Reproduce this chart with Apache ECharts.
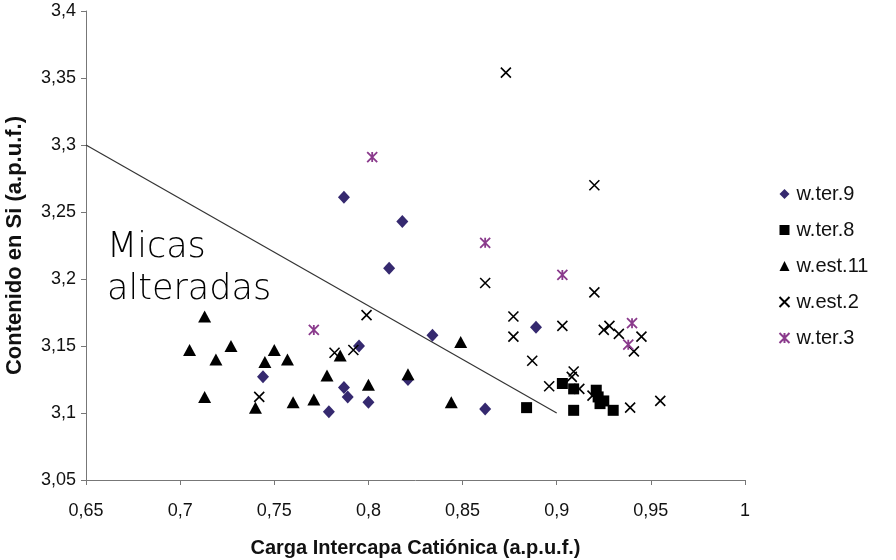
<!DOCTYPE html>
<html>
<head>
<meta charset="utf-8">
<script src="https://cdn.jsdelivr.net/npm/echarts@6/dist/echarts.min.js"></script>
<style>html,body{margin:0;padding:0;background:#fff}#c{width:896px;height:560px}</style>
</head>
<body>
<div id="c"></div>
<script>
// Data
const wTer9 = [[0.787,3.261],[0.818,3.243],[0.811,3.208],[0.795,3.150],[0.744,3.127],[0.787,3.119],[0.789,3.112],[0.800,3.108],[0.779,3.101],[0.821,3.125],[0.834,3.158],[0.889,3.164],[0.862,3.103]];
const wTer8 = [[0.903,3.122],[0.909,3.118],[0.921,3.117],[0.922,3.112],[0.925,3.109],[0.923,3.107],[0.884,3.104],[0.909,3.102],[0.930,3.102]];
const wEst11 = [[0.713,3.172],[0.705,3.147],[0.727,3.150],[0.719,3.140],[0.750,3.147],[0.745,3.138],[0.757,3.140],[0.785,3.143],[0.778,3.128],[0.800,3.121],[0.713,3.112],[0.740,3.104],[0.760,3.108],[0.771,3.110],[0.821,3.129],[0.849,3.153],[0.844,3.108]];
const wEst2 = [[0.873,3.354],[0.920,3.270],[0.799,3.173],[0.782,3.145],[0.792,3.147],[0.742,3.112],[0.862,3.197],[0.920,3.190],[0.877,3.172],[0.877,3.157],[0.903,3.165],[0.925,3.162],[0.928,3.165],[0.933,3.159],[0.945,3.157],[0.941,3.146],[0.887,3.139],[0.909,3.131],[0.908,3.127],[0.896,3.120],[0.912,3.118],[0.919,3.113],[0.939,3.104],[0.955,3.109]];
const wTer3 = [[0.802,3.291],[0.862,3.227],[0.771,3.162],[0.903,3.203],[0.940,3.167],[0.938,3.151]];
const boundaryLine = [[0.65,3.3],[0.9,3.1]];
const seriesNames = ['w.ter.9','w.ter.8','w.est.11','w.est.2','w.ter.3'];
const xTitle = 'Carga Intercapa Catiónica (a.p.u.f.)';
const yTitle = 'Contenido en Si (a.p.u.f.)';
const annotation = ['Micas','alteradas'];

const fmt = v => String(Number(v.toFixed(2))).replace('.', ',');
const crossPath = 'path://M0,0L10,10M10,0L0,10';
const starPath = 'path://M0,0L10,10M10,0L0,10M5,0L5,10';
const navy = '#35296f';
const purple = '#8a3a8c';
const font = 'Liberation Sans, Arial, sans-serif';

const chart = echarts.init(document.getElementById('c'));
chart.setOption({
  animation: false,
  backgroundColor: '#fff',
  grid: {left: 86, right: 151, top: 11, bottom: 80, outerBoundsMode: 'none', containLabel: false},
  xAxis: {
    type: 'value', min: 0.65, max: 1, interval: 0.05,
    name: xTitle, nameLocation: 'middle', nameGap: 58,
    nameTextStyle: {fontFamily: font, fontWeight: 'bold', fontSize: 20, color: '#111'},
    axisLine: {lineStyle: {color: '#777', width: 1}},
    axisTick: {length: 5, lineStyle: {color: '#777'}},
    splitLine: {show: false},
    axisLabel: {formatter: fmt, fontFamily: font, fontSize: 18, color: '#111', margin: 22}
  },
  yAxis: {
    type: 'value', min: 3.05, max: 3.4, interval: 0.05,
    name: yTitle, nameLocation: 'middle', nameGap: 60, nameRotate: 90,
    nameTextStyle: {fontFamily: font, fontWeight: 'bold', fontSize: 22, color: '#111'},
    axisLine: {show: true, lineStyle: {color: '#777', width: 1}},
    axisTick: {show: true, length: 5, lineStyle: {color: '#777'}},
    splitLine: {show: false},
    axisLabel: {formatter: fmt, fontFamily: font, fontSize: 18, color: '#111', margin: 10}
  },
  legend: {
    orient: 'vertical', left: 772, top: 179,
    itemWidth: 10, itemHeight: 10, itemGap: 16,
    data: seriesNames,
    textStyle: {fontFamily: font, fontSize: 20, color: '#111', padding: [0, 0, 0, 2]}
  },
  graphic: [
    {type: 'text', left: 107, top: 227, style: {text: annotation.join('\n'), font: '200 35px "DejaVu Sans", sans-serif', lineHeight: 42, fill: '#000'}}
  ],
  series: [
    {type: 'line', data: boundaryLine, symbol: 'none', silent: true, lineStyle: {color: '#333', width: 1.2}, z: 1},
    {name: seriesNames[0], type: 'scatter', data: wTer9, symbol: 'diamond', symbolSize: [12, 13], itemStyle: {color: navy, opacity: 1}},
    {name: seriesNames[1], type: 'scatter', data: wTer8, symbol: 'rect', symbolSize: 11, itemStyle: {color: '#000', opacity: 1}},
    {name: seriesNames[2], type: 'scatter', data: wEst11, symbol: 'triangle', symbolSize: [13, 12], itemStyle: {color: '#000', opacity: 1}},
    {name: seriesNames[3], type: 'scatter', data: wEst2, symbol: crossPath, symbolSize: 10, itemStyle: {color: 'none', borderColor: '#000', borderWidth: 1.6, opacity: 1}},
    {name: seriesNames[4], type: 'scatter', data: wTer3, symbol: starPath, symbolSize: 10, itemStyle: {color: 'none', borderColor: purple, borderWidth: 1.8, opacity: 1}}
  ]
});
</script>
</body>
</html>
